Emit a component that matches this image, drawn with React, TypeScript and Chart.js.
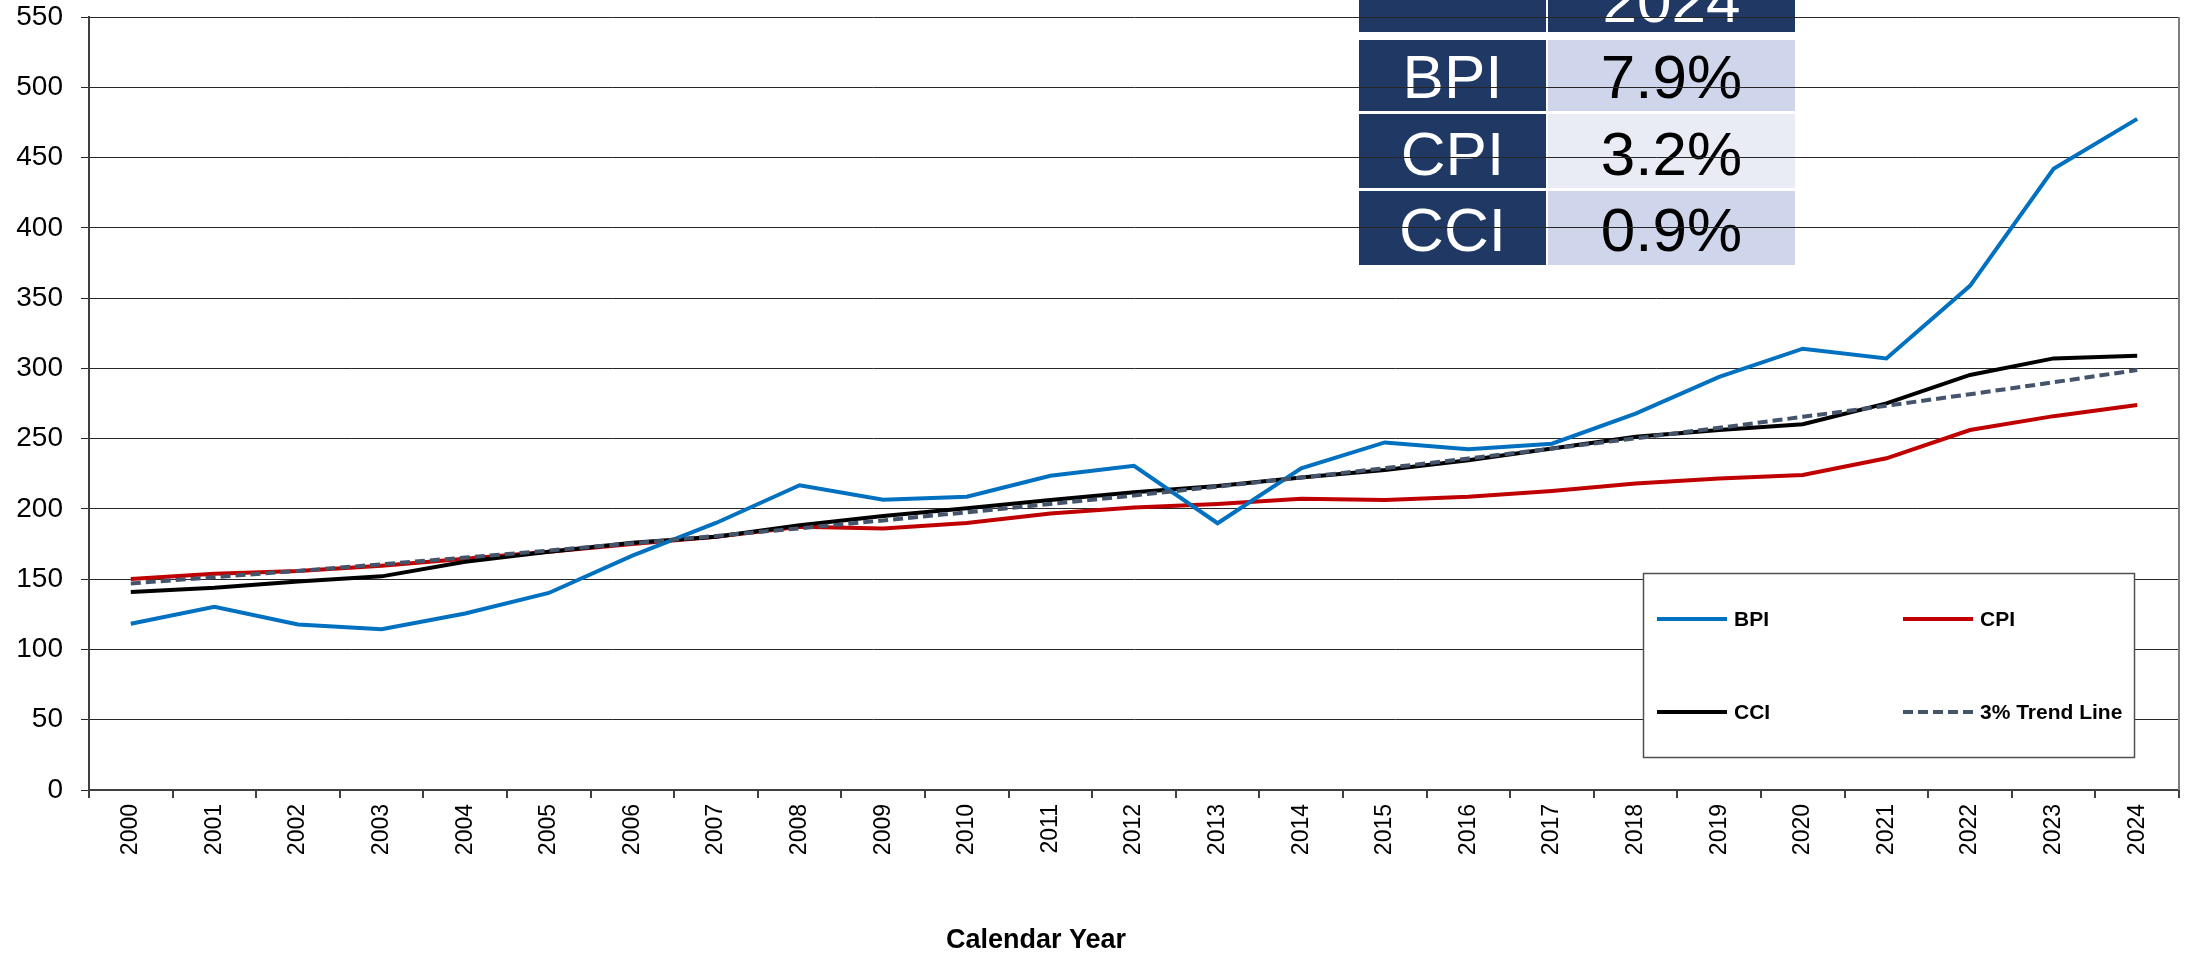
import React, { useEffect, useRef } from 'react';
import { Chart, registerables } from 'chart.js';

Chart.register(...registerables);

const years = ['2000', '2001', '2002', '2003', '2004', '2005', '2006', '2007', '2008', '2009', '2010', '2011', '2012', '2013', '2014', '2015', '2016', '2017', '2018', '2019', '2020', '2021', '2022', '2023', '2024'];
const bpiValues = [118.3, 130.4, 117.8, 114.4, 125.6, 140.2, 166.8, 190.0, 216.8, 206.5, 208.7, 223.6, 230.7, 189.8, 228.8, 247.3, 242.4, 246.4, 267.8, 294.0, 314.0, 307.0, 358.7, 442.0, 477.5];
const cpiValues = [150.1, 153.9, 155.8, 159.6, 164.6, 169.6, 175.0, 180.2, 187.3, 186.1, 190.0, 196.7, 201.0, 203.5, 207.3, 206.3, 208.7, 212.7, 218.0, 221.7, 224.1, 236.0, 256.1, 266.0, 273.9];
const cciValues = [140.8, 143.9, 148.4, 152.0, 162.4, 169.5, 176.0, 180.2, 188.4, 195.0, 200.4, 206.3, 211.8, 216.3, 222.4, 227.7, 234.6, 243.0, 251.3, 256.1, 260.2, 275.1, 295.3, 307.1, 309.0];
const trendValues = [147.0, 151.4, 155.9, 160.6, 165.4, 170.4, 175.5, 180.8, 186.2, 191.8, 197.6, 203.5, 209.6, 215.9, 222.3, 229.0, 235.9, 242.9, 250.2, 257.7, 265.5, 273.4, 281.6, 290.1, 298.8];
const seriesLabels = ['BPI', 'CPI', 'CCI', '3% Trend Line'];
const yMin = 0;
const yMax = 550;
const yStep = 50;
const axisTitle = 'Calendar Year';
const tableHeader = '2024';
const tableRowLabels = ['BPI', 'CPI', 'CCI'];
const tableRowValues = ['7.9%', '3.2%', '0.9%'];

const FONT = '"Liberation Sans", Arial, sans-serif';

const tablePlugin = {
  id: 'growthTable',
  beforeDraw(chart: any) {
    const ctx = chart.ctx;
    ctx.save();
    const navy = '#203864';
    const lx = 1359, lw = 187, rx = 1548, rw = 247;
    ctx.fillStyle = navy;
    ctx.fillRect(lx, 0, lw, 32);
    ctx.fillRect(rx, 0, rw, 32);
    ctx.font = `62px ${FONT}`;
    ctx.textAlign = 'center';
    ctx.textBaseline = 'alphabetic';
    ctx.fillStyle = '#ffffff';
    ctx.fillText(tableHeader, rx + rw / 2, 22);
    const rows = [
      { top: 40, h: 71, base: 98, bg: '#CFD5EA' },
      { top: 114, h: 74, base: 175, bg: '#E9EBF5' },
      { top: 191, h: 74, base: 251, bg: '#CFD5EA' },
    ];
    rows.forEach((r, i) => {
      ctx.fillStyle = navy;
      ctx.fillRect(lx, r.top, lw, r.h);
      ctx.fillStyle = r.bg;
      ctx.fillRect(rx, r.top, rw, r.h);
      ctx.fillStyle = '#ffffff';
      ctx.fillText(tableRowLabels[i], lx + lw / 2, r.base);
      ctx.fillStyle = '#000000';
      ctx.fillText(tableRowValues[i], rx + rw / 2, r.base);
    });
    ctx.restore();
  },
};

const overlayPlugin = {
  id: 'overlay',
  afterDraw(chart: any) {
    const ctx = chart.ctx;
    const area = chart.chartArea;
    ctx.save();
    ctx.strokeStyle = '#808080';
    ctx.lineWidth = 2;
    ctx.beginPath();
    ctx.moveTo(area.right, area.top);
    ctx.lineTo(area.right, area.bottom);
    ctx.stroke();

    const bx = 1643, by = 573, bw = 491, bh = 184;
    ctx.fillStyle = '#ffffff';
    ctx.fillRect(bx, by, bw, bh);
    ctx.strokeStyle = '#505050';
    ctx.lineWidth = 1.5;
    ctx.strokeRect(bx + 0.5, by + 0.5, bw, bh);
    const pos = [
      { x: 1657, y: 619 },
      { x: 1903, y: 619 },
      { x: 1657, y: 712 },
      { x: 1903, y: 712 },
    ];
    ctx.font = `bold 21px ${FONT}`;
    ctx.textAlign = 'left';
    ctx.textBaseline = 'middle';
    chart.data.datasets.forEach((ds: any, i: number) => {
      const p = pos[i];
      ctx.strokeStyle = ds.borderColor;
      ctx.lineWidth = 4;
      ctx.setLineDash(ds.borderDash || []);
      ctx.lineCap = 'butt';
      ctx.beginPath();
      ctx.moveTo(p.x, p.y);
      ctx.lineTo(p.x + 70, p.y);
      ctx.stroke();
      ctx.setLineDash([]);
      ctx.fillStyle = '#000000';
      ctx.fillText(ds.label, p.x + 77, p.y + 1);
    });

    ctx.font = `bold 27px ${FONT}`;
    ctx.textAlign = 'center';
    ctx.textBaseline = 'middle';
    ctx.fillStyle = '#000000';
    ctx.fillText(axisTitle, 1036, 941);
    ctx.restore();
  },
};

export default function App() {
  const canvasRef = useRef<HTMLCanvasElement | null>(null);

  useEffect(() => {
    document.body.style.margin = '0';
    const canvas = canvasRef.current;
    if (!canvas) return;
    Chart.defaults.font.family = FONT;
    const chart = new Chart(canvas, {
      type: 'line',
      data: {
        labels: years,
        datasets: [
          { label: seriesLabels[0], data: bpiValues, borderColor: '#0070C0', backgroundColor: '#0070C0', borderWidth: 4, pointRadius: 0, tension: 0, order: 2 },
          { label: seriesLabels[1], data: cpiValues, borderColor: '#C00000', backgroundColor: '#C00000', borderWidth: 4, pointRadius: 0, tension: 0, order: 4 },
          { label: seriesLabels[2], data: cciValues, borderColor: '#000000', backgroundColor: '#000000', borderWidth: 4, pointRadius: 0, tension: 0, order: 3 },
          { label: seriesLabels[3], data: trendValues, borderColor: '#44546A', backgroundColor: '#44546A', borderWidth: 4, borderDash: [10, 5], pointRadius: 0, tension: 0, order: 1 },
        ],
      },
      options: {
        responsive: false,
        animation: false,
        devicePixelRatio: 1,
        layout: { padding: { top: 17, right: 14, left: 0, bottom: 0 } },
        plugins: {
          legend: { display: false },
          tooltip: { enabled: false },
          title: { display: false },
        },
        scales: {
          x: {
            type: 'category',
            offset: true,
            grid: {
              offset: true,
              drawOnChartArea: false,
              drawTicks: true,
              tickLength: 8,
              color: '#404040',
              lineWidth: 2,
            },
            border: { display: true, color: '#404040', width: 2 },
            ticks: {
              color: '#000000',
              font: { size: 23, family: FONT },
              minRotation: 90,
              maxRotation: 90,
              autoSkip: false,
              padding: 6,
            },
            afterFit(scale: any) {
              scale.height = 166;
              scale.paddingLeft = 0;
              scale.paddingRight = 0;
            },
          },
          y: {
            min: yMin,
            max: yMax,
            ticks: {
              stepSize: yStep,
              color: '#000000',
              font: { size: 28, family: FONT },
              padding: 18,
            },
            grid: {
              color: '#262626',
              lineWidth: 1,
              tickLength: 8,
              drawTicks: true,
            },
            border: { display: true, color: '#404040', width: 2 },
            afterFit(scale: any) {
              scale.width = 89;
              scale.paddingTop = 0;
              scale.paddingBottom = 0;
            },
          },
        },
      },
      plugins: [tablePlugin, overlayPlugin],
    });
    return () => {
      chart.destroy();
    };
  }, []);

  return (
    <div style={{ width: 2193, height: 956, position: 'relative', overflow: 'hidden', background: '#ffffff' }}>
      <canvas ref={canvasRef} width={2193} height={956} style={{ display: 'block', width: 2193, height: 956 }} />
    </div>
  );
}
